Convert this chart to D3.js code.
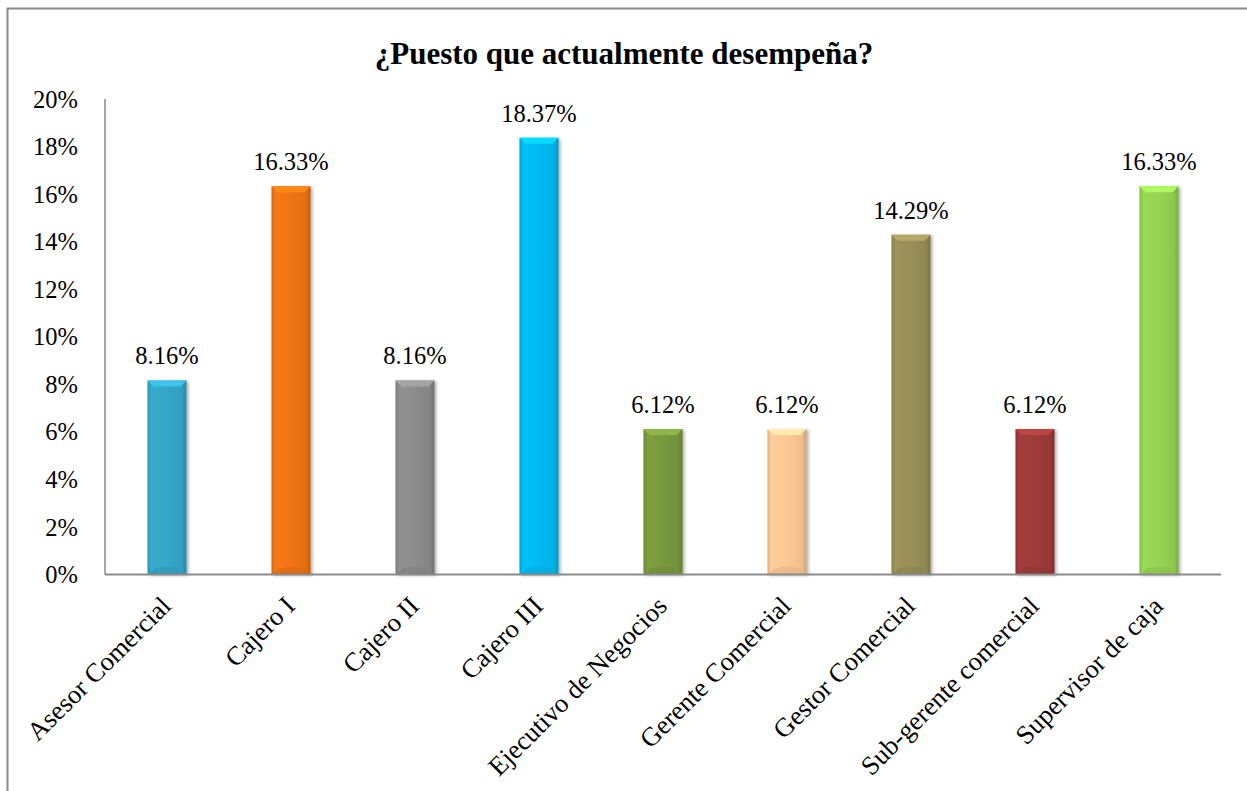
<!DOCTYPE html>
<html>
<head>
<meta charset="utf-8">
<script src="https://cdn.jsdelivr.net/npm/d3@7"></script>
<style>
  html, body { margin: 0; padding: 0; background: #fff; }
  svg { display: block; }
</style>
</head>
<body>
<svg id="chart" width="1247" height="791"></svg>
<script>
// Chart data
const title = "¿Puesto que actualmente desempeña?";
const categories = [
  "Asesor Comercial", "Cajero I", "Cajero II", "Cajero III",
  "Ejecutivo de Negocios", "Gerente Comercial", "Gestor Comercial",
  "Sub-gerente comercial", "Supervisor de caja"
];
const values = [8.16, 16.33, 8.16, 18.37, 6.12, 6.12, 14.29, 6.12, 16.33];
const barColors = [
  "#34A7C8", "#F07412", "#8C8C8C", "#05BAF2", "#789A3E",
  "#FDC895", "#988F59", "#9E3B39", "#95D353"
];
const yTicks = [0, 2, 4, 6, 8, 10, 12, 14, 16, 18, 20];

const FONT = "'Liberation Serif', 'Times New Roman', serif";
const svg = d3.select("#chart");
const W = 1247, H = 791;
const margin = { left: 105, right: 26, top: 99, bottom: 217 };
const x0 = margin.left, x1 = W - margin.right;
const y0 = H - margin.bottom, y1 = margin.top;

const x = d3.scaleBand().domain(categories).range([x0, x1])
  .paddingInner(0.685).paddingOuter(0.3425);
const y = d3.scaleLinear().domain([0, 20]).range([y0 + 0.5, y1]);

const defs = svg.append("defs");
const shadow = defs.append("filter").attr("id", "shadow")
  .attr("x", "-20%").attr("y", "-5%").attr("width", "150%").attr("height", "115%");
shadow.append("feDropShadow").attr("dx", 2).attr("dy", 1).attr("stdDeviation", 1.5)
  .attr("flood-color", "#000").attr("flood-opacity", 0.3);

barColors.forEach((c, i) => {
  const base = d3.color(c);
  const g = defs.append("linearGradient").attr("id", "grad" + i)
    .attr("x1", "0%").attr("x2", "100%").attr("y1", "0%").attr("y2", "0%");
  g.append("stop").attr("offset", "0%").attr("stop-color", base.darker(0.35));
  g.append("stop").attr("offset", "10%").attr("stop-color", base.brighter(0.1));
  g.append("stop").attr("offset", "50%").attr("stop-color", base);
  g.append("stop").attr("offset", "88%").attr("stop-color", base.darker(0.15));
  g.append("stop").attr("offset", "100%").attr("stop-color", base.darker(0.6));
});

// Outer frame
svg.append("rect").attr("x", 7.5).attr("y", 8.5)
  .attr("width", W + 20).attr("height", H + 20)
  .attr("fill", "#fff").attr("stroke", "#8a8a8a").attr("stroke-width", 2);

// Title
svg.append("text").attr("x", 624).attr("y", 64)
  .attr("text-anchor", "middle")
  .attr("font-family", FONT)
  .attr("font-weight", "bold").attr("font-size", 31)
  .attr("fill", "#000").text(title);

// Y axis labels
svg.append("g").selectAll("text").data(yTicks).join("text")
  .attr("x", 78).attr("y", d => y(d)).attr("dy", "0.35em")
  .attr("text-anchor", "end")
  .attr("font-family", FONT)
  .attr("font-size", 24.5).attr("fill", "#000")
  .text(d => d + "%");

// Axis lines
svg.append("line").attr("x1", x0).attr("x2", x0).attr("y1", y1).attr("y2", y0 + 0.5)
  .attr("stroke", "#8a8a8a").attr("stroke-width", 1.5);

// Bars
const bars = svg.append("g").selectAll("g").data(categories).join("g")
  .attr("filter", "url(#shadow)");
bars.append("rect")
  .attr("x", d => x(d)).attr("width", x.bandwidth())
  .attr("y", (d, i) => y(values[i]))
  .attr("height", (d, i) => y(0) - y(values[i]))
  .attr("fill", (d, i) => `url(#grad${i})`);

// Top bevel
const bev = 6;
svg.append("g").selectAll("path").data(categories).join("path")
  .attr("d", (d, i) => {
    const l = x(d), r = l + x.bandwidth(), t = y(values[i]);
    return `M${l},${t}L${r},${t}L${r - bev},${t + bev}L${l + bev},${t + bev}Z`;
  })
  .attr("fill", (d, i) => d3.color(barColors[i]).brighter(0.45));
// Bottom bevel
svg.append("g").selectAll("path").data(categories).join("path")
  .attr("d", (d, i) => {
    const l = x(d), r = l + x.bandwidth(), b = y(0);
    return `M${l + 2},${b}L${l + bev},${b - bev}Q${(l + r) / 2},${b - bev - 3} ${r - bev},${b - bev}L${r - 2},${b}Z`;
  })
  .attr("fill", (d, i) => d3.color(barColors[i]).darker(0.25))
  .attr("opacity", 0.7);

svg.append("line").attr("x1", x0).attr("x2", x1).attr("y1", y0 + 0.5).attr("y2", y0 + 0.5)
  .attr("stroke", "#8a8a8a").attr("stroke-width", 2);

// Value labels
svg.append("g").selectAll("text").data(categories).join("text")
  .attr("x", d => x(d) + x.bandwidth() / 2)
  .attr("y", (d, i) => y(values[i]) - 16)
  .attr("text-anchor", "middle")
  .attr("font-family", FONT)
  .attr("font-size", 24.5).attr("fill", "#000")
  .text((d, i) => values[i].toFixed(2) + "%");

// Category labels, rotated
svg.append("g").selectAll("text").data(categories).join("text")
  .attr("transform", d => `translate(${x(d) + x.bandwidth() / 2 - 1},${y0 + 27}) rotate(-45)`)
  .attr("text-anchor", "end")
  .attr("dy", "0.35em")
  .attr("font-family", FONT)
  .attr("font-size", 26.5).attr("fill", "#000")
  .text(d => d);
</script>
</body>
</html>
